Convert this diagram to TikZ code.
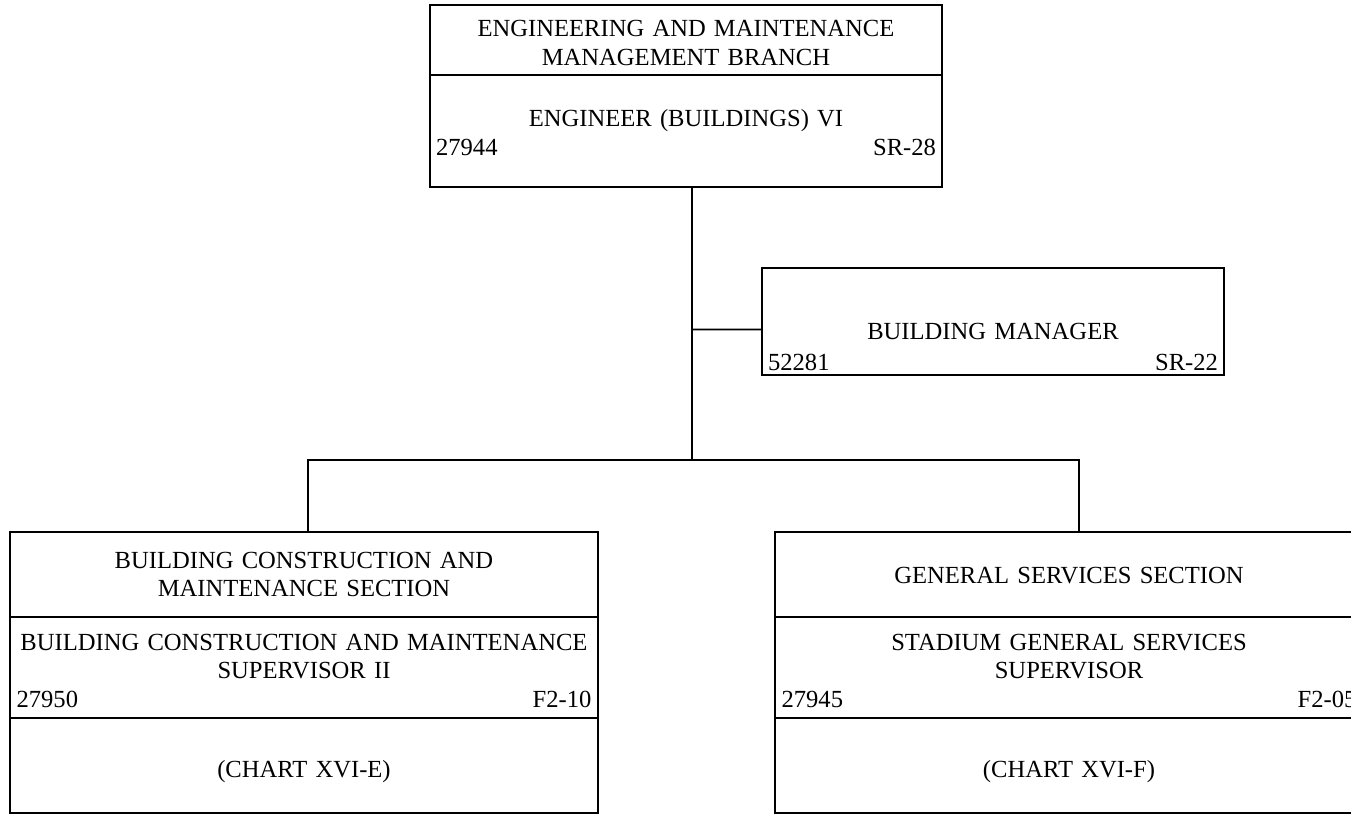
\documentclass[tikz,border=0pt]{standalone}
\usepackage{fontspec}
\setmainfont{Liberation Serif}
\newcommand{\orgfont}{\fontsize{14}{16.5}\selectfont}

\begin{document}
\begin{tikzpicture}[x=0.02cm, y=-0.02cm,
    sect/.style={draw, line width=1pt, anchor=north west, inner sep=0pt, outer sep=0pt},
    txt/.style={font=\orgfont, anchor=base, align=center, inner sep=0pt, text width=#1},
    link/.style={line width=1pt}
]
\clip (0,0) rectangle (1351,814);

% top branch box
\node[sect, minimum width=10.24cm, minimum height=1.4cm] (branch) at (430,5) {};
\node[sect, minimum width=10.24cm, minimum height=2.24cm] (eng) at (430,75) {};
\node[txt=10cm] (branchtxt) at (686,37) {ENGINEERING AND MAINTENANCE\\MANAGEMENT BRANCH};
\node[txt=10cm] (engtxt) at (686,127) {ENGINEER (BUILDINGS) VI\\\makebox[\linewidth]{27944\hfill SR-28}};

% staff box
\node[sect, minimum width=9.24cm, minimum height=2.14cm] (mgr) at (762,268) {};
\node[txt=9cm] (mgrtxt) at (993,339) {BUILDING MANAGER\\[1.7pt]\makebox[\linewidth]{52281\hfill SR-22}};

% left section
\node[sect, minimum width=11.76cm, minimum height=1.7cm] (bcmhead) at (10,532) {};
\node[sect, minimum width=11.76cm, minimum height=2.02cm] (bcmsup) at (10,617) {};
\node[sect, minimum width=11.76cm, minimum height=1.9cm] (bcmchart) at (10,718) {};
\node[txt=11.5cm] (bcmheadtxt) at (304,568) {BUILDING CONSTRUCTION AND\\MAINTENANCE SECTION};
\node[txt=11.5cm] (bcmsuptxt) at (304,650) {BUILDING CONSTRUCTION AND MAINTENANCE\\SUPERVISOR II\\\makebox[\linewidth]{27950\hfill F2-10}};
\node[txt=11.5cm] (bcmcharttxt) at (304,777) {(CHART XVI-E)};

% right section
\node[sect, minimum width=11.76cm, minimum height=1.7cm] (gshead) at (775,532) {};
\node[sect, minimum width=11.76cm, minimum height=2.02cm] (gssup) at (775,617) {};
\node[sect, minimum width=11.76cm, minimum height=1.9cm] (gschart) at (775,718) {};
\node[txt=11.5cm] (gsheadtxt) at (1069,583) {GENERAL SERVICES SECTION};
\node[txt=11.5cm] (gssuptxt) at (1069,650) {STADIUM GENERAL SERVICES\\SUPERVISOR\\\makebox[\linewidth]{27945\hfill F2-05}};
\node[txt=11.5cm] (gscharttxt) at (1069,777) {(CHART XVI-F)};

% connectors
\coordinate (trunk) at (692,460);
\coordinate (busL) at (308,460);
\coordinate (busR) at (1079,460);
\draw[link] (trunk |- eng.south) -- (trunk);
\draw[link] (trunk |- mgr.west) ++(0,8) -- ([yshift=-0.16cm]mgr.west);
\draw[link] (busL |- bcmhead.north) -- (busL) -- (busR) -- (busR |- gshead.north);
\end{tikzpicture}
\end{document}
